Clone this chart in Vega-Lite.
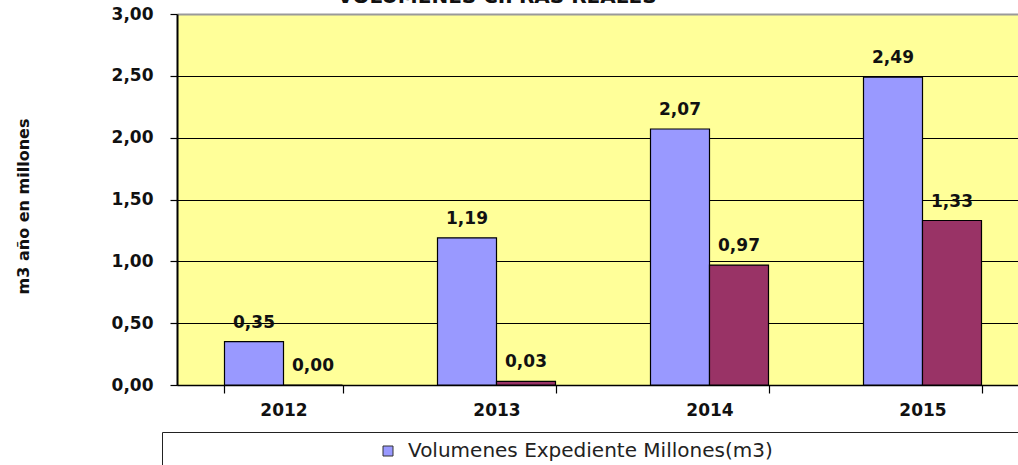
{
  "$schema": "https://vega.github.io/schema/vega-lite/v6.json",
  "width": 852,
  "height": 371,
  "autosize": {"type": "none"},
  "padding": {"left": 177, "top": 14, "right": -11, "bottom": 80},
  "background": "white",
  "title": {
    "text": "VOLUMENES CIFRAS REALES",
    "font": "DejaVu Sans",
    "fontSize": 20,
    "fontWeight": "bold",
    "color": "#111",
    "anchor": "middle",
    "frame": "group",
    "dx": -106,
    "offset": -18,
    "baseline": "alphabetic"
  },
  "config": {
    "locale": {"number": {"decimal": ",", "thousands": ".", "grouping": [3], "currency": ["", " €"]}},
    "view": {"fill": "#FFFF99", "stroke": null}
  },
  "data": {
    "values": [
      {"anio": "2012", "serie": "Volumenes Expediente Millones(m3)", "valor": 0.35},
      {"anio": "2012", "serie": "Volumenes Reales Millones(m3)", "valor": 0.0},
      {"anio": "2013", "serie": "Volumenes Expediente Millones(m3)", "valor": 1.19},
      {"anio": "2013", "serie": "Volumenes Reales Millones(m3)", "valor": 0.03},
      {"anio": "2014", "serie": "Volumenes Expediente Millones(m3)", "valor": 2.07},
      {"anio": "2014", "serie": "Volumenes Reales Millones(m3)", "valor": 0.97},
      {"anio": "2015", "serie": "Volumenes Expediente Millones(m3)", "valor": 2.49},
      {"anio": "2015", "serie": "Volumenes Reales Millones(m3)", "valor": 1.33}
    ]
  },
  "encoding": {
    "x": {
      "field": "anio",
      "type": "nominal",
      "scale": {"paddingInner": 0.446, "paddingOuter": 0.223},
      "axis": {
        "title": null,
        "labelAngle": 0,
        "tickBand": "extent",
        "tickSize": 8,
        "tickColor": "#000",
        "tickWidth": 1.2,
        "domainColor": "#000",
        "domainWidth": 1.5,
        "labelFont": "DejaVu Sans",
        "labelFontSize": 17,
        "labelFontWeight": "bold",
        "labelColor": "#111",
        "labelPadding": 9,
        "grid": false
      }
    },
    "xOffset": {
      "field": "serie",
      "type": "nominal",
      "scale": {"domain": ["Volumenes Expediente Millones(m3)", "Volumenes Reales Millones(m3)"]}
    },
    "y": {
      "field": "valor",
      "type": "quantitative",
      "scale": {"domain": [0, 3], "nice": false},
      "axis": {
        "title": "m3 año en millones",
        "values": [0, 0.5, 1, 1.5, 2, 2.5, 3],
        "format": ".2f",
        "grid": true,
        "gridColor": {"condition": {"test": "datum.value === 3", "value": "#9a9a9a"}, "value": "#000"},
        "gridWidth": {"condition": {"test": "datum.value === 3", "value": 2}, "value": 1},
        "gridOpacity": 1,
        "domainColor": "#000",
        "domainWidth": 2,
        "tickColor": "#000",
        "tickWidth": 1.2,
        "tickSize": 7,
        "labelPadding": 17,
        "labelFont": "DejaVu Sans",
        "labelFontSize": 17,
        "labelFontWeight": "bold",
        "labelColor": "#111",
        "titleFont": "DejaVu Sans",
        "titleFontSize": 16,
        "titleFontWeight": "bold",
        "titleColor": "#111",
        "titleAngle": -90,
        "titleX": -154,
        "titleY": 192,
        "titleAlign": "center",
        "titleBaseline": "middle"
      }
    }
  },
  "layer": [
    {
      "mark": {"type": "bar", "stroke": "#000", "strokeWidth": 1.2},
      "encoding": {
        "color": {
          "field": "serie",
          "type": "nominal",
          "scale": {
            "domain": ["Volumenes Expediente Millones(m3)", "Volumenes Reales Millones(m3)"],
            "range": ["#9999FF", "#993366"]
          },
          "legend": {
            "orient": "none",
            "legendX": -15,
            "legendY": 418,
            "direction": "horizontal",
            "title": null,
            "symbolType": "square",
            "symbolSize": 100,
            "symbolStrokeColor": "#333",
            "symbolStrokeWidth": 1,
            "symbolOffset": 207,
            "labelOffset": 10,
            "labelFont": "DejaVu Sans",
            "labelFontSize": 20,
            "labelColor": "#222",
            "labelLimit": 0,
            "strokeColor": "#222",
            "fillColor": "#fff",
            "padding": 9,
            "columnPadding": 300
          }
        }
      }
    },
    {
      "mark": {
        "type": "text",
        "dy": -19,
        "baseline": "middle",
        "font": "DejaVu Sans",
        "fontSize": 17,
        "fontWeight": "bold",
        "color": "#111"
      },
      "encoding": {
        "text": {"field": "valor", "type": "quantitative", "format": ".2f"}
      }
    }
  ]
}
